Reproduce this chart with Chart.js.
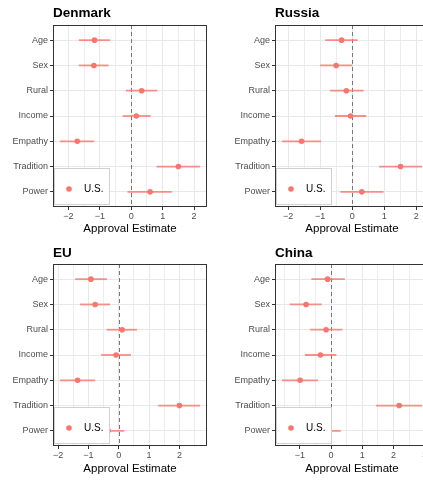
<!DOCTYPE html>
<html>
<head>
<meta charset="utf-8">
<script src="https://cdn.jsdelivr.net/npm/chart.js@4.4.0/dist/chart.umd.min.js"></script>
<style>
html, body { margin: 0; padding: 0; background: #fff; overflow: hidden; width: 423px; height: 480px; }
canvas { position: absolute; }
</style>
</head>
<body>
<canvas id="denmark" width="211" height="240" style="left:0;top:0"></canvas>
<canvas id="russia" width="232" height="240" style="left:211px;top:0"></canvas>
<canvas id="eu" width="211" height="240" style="left:0;top:240px"></canvas>
<canvas id="china" width="232" height="240" style="left:211px;top:240px"></canvas>
<script>
var categories = ["Age", "Sex", "Rural", "Income", "Empathy", "Tradition", "Power"];
var seriesName = "U.S.";
var axisTitle = "Approval Estimate";

var denmarkEst = [-1.17, -1.19, 0.33, 0.16, -1.72, 1.50, 0.60];
var denmarkLo = [-1.67, -1.67, -0.17, -0.27, -2.27, 0.81, -0.12];
var denmarkHi = [-0.68, -0.72, 0.83, 0.62, -1.18, 2.19, 1.29];

var russiaEst = [-0.33, -0.50, -0.18, -0.05, -1.58, 1.51, 0.30];
var russiaLo = [-0.84, -1.00, -0.69, -0.54, -2.19, 0.84, -0.37];
var russiaHi = [0.17, 0.00, 0.36, 0.44, -0.97, 2.18, 0.98];

var euEst = [-0.92, -0.78, 0.11, -0.09, -1.36, 2.00, -0.35];
var euLo = [-1.44, -1.28, -0.40, -0.58, -1.94, 1.30, -0.88];
var euHi = [-0.39, -0.29, 0.60, 0.40, -0.78, 2.68, 0.18];

var chinaEst = [-0.11, -0.80, -0.16, -0.34, -0.99, 2.18, -0.20];
var chinaLo = [-0.63, -1.32, -0.67, -0.84, -1.57, 1.44, -0.72];
var chinaHi = [0.44, -0.30, 0.36, 0.17, -0.42, 2.91, 0.31];

var pointColor = "#F8766D";
var barColor = "rgba(248, 118, 109, 0.8)";
var font = "'Liberation Sans', Arial, Helvetica, sans-serif";

// reference line, legend box, panel border and title
var panelDecor = {
  id: "panelDecor",
  beforeDatasetsDraw: function (chart) {
    var a = chart.chartArea, c = chart.ctx;
    var x0 = Math.round(chart.scales.x.getPixelForValue(0)) + 0.5;
    c.save();
    c.setLineDash([4, 3]);
    c.strokeStyle = "#777";
    c.lineWidth = 1;
    c.beginPath();
    c.moveTo(x0, a.top);
    c.lineTo(x0, a.bottom);
    c.stroke();
    c.restore();
  },
  afterDatasetsDraw: function (chart) {
    var a = chart.chartArea, c = chart.ctx;
    var left = a.left + 1, top = a.bottom - 39;
    c.save();
    c.fillStyle = "#fff";
    c.fillRect(left, top, 55, 36);
    c.strokeStyle = "#d0d0d0";
    c.lineWidth = 1;
    c.strokeRect(left + 0.5, top + 0.5, 55, 36);
    c.fillStyle = pointColor;
    c.beginPath();
    c.arc(left + 15, top + 21, 2.8, 0, Math.PI * 2);
    c.fill();
    c.fillStyle = "#000";
    c.font = "10px " + font;
    c.textBaseline = "middle";
    c.fillText(seriesName, left + 30, top + 21.5);
    c.restore();
  },
  afterDraw: function (chart, args, opts) {
    var a = chart.chartArea, c = chart.ctx;
    c.save();
    c.strokeStyle = "#333";
    c.lineWidth = 1;
    c.strokeRect(Math.round(a.left) + 0.5, Math.round(a.top) + 0.5,
      Math.round(a.right - a.left) - 1, Math.round(a.bottom - a.top) - 1);
    c.fillStyle = "#000";
    c.font = "bold 13.5px " + font;
    c.textBaseline = "alphabetic";
    c.fillText(opts.title, a.left, 17);
    c.restore();
  }
};

function makePanel(id, title, est, lo, hi, axisLeft, chartTop) {
  var min = Math.min.apply(null, lo), max = Math.max.apply(null, hi);
  var pad = (max - min) * 0.05;
  var canvas = document.getElementById(id);
  var datasets = [{
    label: seriesName,
    data: est.map(function (v, i) { return { x: v, y: i }; }),
    backgroundColor: pointColor,
    borderWidth: 0,
    pointRadius: 2.8
  }];
  categories.forEach(function (cat, i) {
    datasets.push({
      label: cat,
      data: [{ x: lo[i], y: i }, { x: hi[i], y: i }],
      showLine: true,
      borderColor: barColor,
      borderWidth: 1.8,
      pointRadius: 0
    });
  });
  return new Chart(canvas.getContext("2d"), {
    type: "scatter",
    data: { datasets: datasets },
    plugins: [panelDecor],
    options: {
      responsive: false,
      animation: false,
      events: [],
      layout: { padding: { top: chartTop, right: canvas.width - axisLeft - 154, bottom: 0, left: 0 } },
      plugins: {
        legend: { display: false },
        tooltip: { enabled: false },
        panelDecor: { title: title }
      },
      scales: {
        x: {
          type: "linear",
          min: min - pad,
          max: max + pad,
          afterFit: function (s) { s.height = 240 - chartTop - 182; },
          afterBuildTicks: function (s) {
            var t = [];
            for (var v = Math.ceil(s.min * 2) / 2; v <= s.max; v += 0.5) t.push({ value: v });
            s.ticks = t;
          },
          border: { display: false },
          grid: {
            color: "#e8e8e8",
            lineWidth: function (ctx) { return Number.isInteger(ctx.tick.value) ? 1 : 0.8; },
            tickColor: function (ctx) { return Number.isInteger(ctx.tick.value) ? "#333" : "rgba(0,0,0,0)"; },
            tickLength: 3
          },
          ticks: {
            autoSkip: false,
            maxRotation: 0,
            padding: 1,
            color: "#4d4d4d",
            font: { family: font, size: 9 },
            callback: function (v) {
              if (!Number.isInteger(v)) return "";
              return v < 0 ? "\u2212" + Math.abs(v) : String(v);
            }
          },
          title: {
            display: true,
            text: axisTitle,
            color: "#000",
            font: { family: font, size: 11.5 },
            padding: { top: 0, bottom: 4 }
          }
        },
        y: {
          type: "linear",
          min: -0.6,
          max: 6.6,
          reverse: true,
          afterFit: function (s) { s.width = axisLeft; },
          afterBuildTicks: function (s) {
            s.ticks = categories.map(function (c, i) { return { value: i }; });
          },
          border: { display: false },
          grid: { color: "#e8e8e8", lineWidth: 1, tickColor: "#333", tickLength: 3 },
          ticks: {
            autoSkip: false,
            padding: 2,
            color: "#4d4d4d",
            font: { family: font, size: 9 },
            callback: function (v) { return categories[v]; }
          }
        }
      }
    }
  });
}

makePanel("denmark", "Denmark", denmarkEst, denmarkLo, denmarkHi, 53, 25);
makePanel("russia", "Russia", russiaEst, russiaLo, russiaHi, 64, 25);
makePanel("eu", "EU", euEst, euLo, euHi, 53, 24);
makePanel("china", "China", chinaEst, chinaLo, chinaHi, 64, 24);
</script>
</body>
</html>
